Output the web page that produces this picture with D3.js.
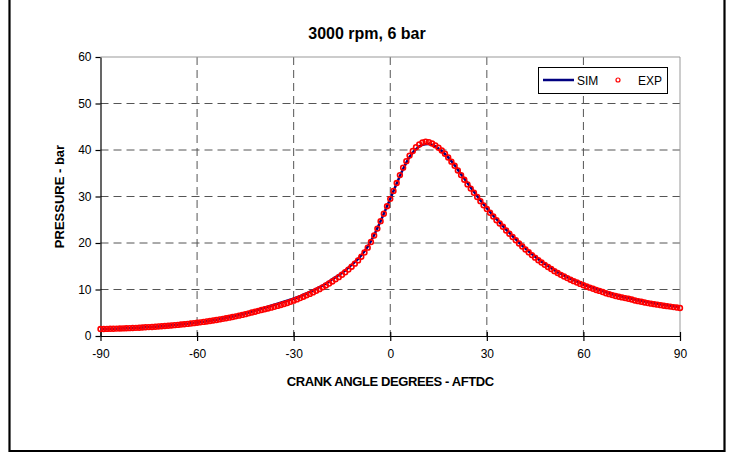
<!DOCTYPE html>
<html><head><meta charset="utf-8">
<script src="https://cdn.jsdelivr.net/npm/d3@7"></script>
<style>
html,body{margin:0;padding:0;background:#fff;}
svg{display:block;font-family:"Liberation Sans",Arial,sans-serif;}
</style></head>
<body><svg id="c" width="731" height="455"></svg>
<script>
const title = "3000 rpm, 6 bar";
const xTitle = "CRANK ANGLE DEGREES - AFTDC";
const yTitle = "PRESSURE - bar";
const xTicks = [-90,-60,-30,0,30,60,90];
const yTicks = [0,10,20,30,40,50,60];
const seriesNames = ["SIM","EXP"];

// EXP: crank angle -90..90 step 1
const expAngle = d3.range(-90, 91, 1);
const expPressure = [
1.50,1.51,1.53,1.55,1.57,1.59,1.61,1.63,1.66,1.69,
1.72,1.75,1.79,1.83,1.87,1.91,1.95,2.00,2.05,2.10,
2.15,2.21,2.27,2.33,2.39,2.46,2.53,2.60,2.68,2.76,
2.85,2.94,3.03,3.13,3.23,3.34,3.45,3.57,3.69,3.82,
3.95,4.09,4.23,4.38,4.54,4.70,4.87,5.04,5.22,5.41,
5.60,5.76,5.93,6.10,6.28,6.47,6.67,6.88,7.10,7.34,
7.60,7.87,8.15,8.44,8.74,9.05,9.38,9.72,10.08,10.46,
10.86,11.28,11.72,12.18,12.66,13.16,13.70,14.28,14.90,15.56,
16.26,17.05,17.95,19.0,20.2,21.6,23.1,24.7,26.3,27.9,
29.5,
31.2,32.9,34.6,36.2,37.6,38.8,39.8,40.6,41.2,41.6,
41.8,41.7,41.4,41.0,40.5,39.9,39.2,38.4,37.5,36.6,
35.6,34.6,33.6,32.6,31.7,30.8,29.9,29.0,28.1,27.3,
26.5,25.7,24.9,24.2,23.5,22.7,22.0,21.3,20.6,19.9,
19.25,18.6,18.0,17.4,16.85,16.3,15.8,15.3,14.85,14.4,
13.95,13.55,13.15,12.8,12.45,12.1,11.8,11.5,11.2,10.9,
10.65,10.4,10.15,9.9,9.7,9.45,9.2,9.0,8.8,8.6,
8.45,8.3,8.15,8.0,7.85,7.65,7.5,7.35,7.2,7.08,
6.96,6.85,6.74,6.63,6.52,6.42,6.32,6.22,6.12,6.03
];

// SIM: crank angle -90..90 step 2
const simAngle = d3.range(-90, 91, 2);
const simPressure = [
1.50,1.53,1.57,1.61,1.66,1.72,1.79,1.87,1.95,2.05,
2.17,2.29,2.42,2.56,2.72,2.89,3.08,3.29,3.51,3.76,
4.05,4.35,4.68,5.05,5.45,5.88,6.30,6.72,7.15,7.60,
8.05,8.55,9.15,9.8,10.5,11.3,12.2,13.1,14.1,15.3,
16.6,18.2,20.4,23.2,26.3,29.5,32.8,35.9,38.5,40.2,
41.1,41.3,40.8,39.8,38.4,36.7,34.8,32.9,31.0,29.2,
27.5,25.9,24.4,22.9,21.5,20.1,18.8,17.6,16.5,15.5,
14.6,13.7,13.0,12.3,11.7,11.1,10.6,10.1,9.65,9.2,
8.8,8.45,8.15,7.85,7.55,7.3,7.05,6.8,6.6,6.4,6.2
];

const svg = d3.select("#c");
const L = 100.5, R = 680, T = 57, B = 336;
const x = d3.scaleLinear().domain([-90,90]).range([L,R]);
const y = d3.scaleLinear().domain([0,60]).range([B,T]);

// outer frame
svg.append("path").attr("d","M9.5,-5 V451 H724.5 V-5").attr("fill","none").attr("stroke","#000").attr("stroke-width",2.2);

// grid
const g = svg.append("g");
g.selectAll(".hg").data(yTicks.filter(v=>v>0 && v<60)).join("line")
  .attr("x1",L).attr("x2",R).attr("y1",d=>y(d)).attr("y2",d=>y(d))
  .attr("stroke","#555").attr("stroke-dasharray","8,5").attr("stroke-width",1);
g.selectAll(".vg").data(xTicks.filter(v=>v>-90 && v<90)).join("line")
  .attr("y1",T).attr("y2",B).attr("x1",d=>x(d)).attr("x2",d=>x(d))
  .attr("stroke","#555").attr("stroke-dasharray","8,5").attr("stroke-width",1);
// plot border top/right
svg.append("path").attr("d",`M${L},${y(60)} H${R} V${B}`).attr("fill","none").attr("stroke","#999").attr("stroke-width",1);

// axes
const fmt = d => String(d);
const xAxis = d3.axisBottom(x).tickValues(xTicks).tickFormat(fmt).tickSize(5).tickSizeOuter(0).tickPadding(8);
const gx = svg.append("g").attr("transform",`translate(0,${B})`).call(xAxis);
gx.selectAll(".tick line").attr("y1",-4).attr("y2",5);
const yAxis = d3.axisLeft(y).tickValues(yTicks).tickFormat(fmt).tickSize(5).tickSizeOuter(0).tickPadding(4);
const gy = svg.append("g").attr("transform",`translate(${L},0)`).call(yAxis);
[gx,gy].forEach(a=>{
  a.selectAll("text").attr("font-size",12).attr("fill","#000").attr("font-family","Liberation Sans, Arial, sans-serif");
  a.selectAll("line,path").attr("stroke","#000").attr("stroke-width",1.2);
});

// SIM line
svg.append("path")
  .datum(simAngle.map((a,i)=>[a,simPressure[i]]))
  .attr("fill","none").attr("stroke","#000080").attr("stroke-width",2.5)
  .attr("d", d3.line().x(d=>x(d[0])).y(d=>y(d[1])).curve(d3.curveCatmullRom));

// EXP markers
svg.append("g").selectAll("circle")
  .data(expAngle.map((a,i)=>[a,expPressure[i]]))
  .join("circle")
  .attr("cx",d=>x(d[0])).attr("cy",d=>y(d[1])).attr("r",2.4)
  .attr("fill","none").attr("stroke","#ff0000").attr("stroke-width",1.6);

// titles
svg.append("text").attr("x",367).attr("y",39).attr("text-anchor","middle")
  .attr("font-size",16).attr("font-weight","bold").text(title);
svg.append("text").attr("x",(L+R)/2).attr("y",386).attr("text-anchor","middle")
  .attr("font-size",13).attr("font-weight","bold").attr("letter-spacing",-0.4).text(xTitle);
svg.append("text").attr("transform",`translate(64,${(T+B)/2}) rotate(-90)`).attr("text-anchor","middle")
  .attr("font-size",13).attr("font-weight","bold").text(yTitle);

// legend
const lg = svg.append("g");
lg.append("rect").attr("x",538.5).attr("y",67.5).attr("width",129).attr("height",26)
  .attr("fill","#fff").attr("stroke","#000").attr("stroke-width",1);
lg.append("line").attr("x1",543).attr("x2",574).attr("y1",80).attr("y2",80)
  .attr("stroke","#000080").attr("stroke-width",2.5);
lg.append("text").attr("x",577).attr("y",85).attr("font-size",12).text(seriesNames[0]);
lg.append("circle").attr("cx",618).attr("cy",80).attr("r",2).attr("fill","#fff")
  .attr("stroke","#ff0000").attr("stroke-width",1.2);
lg.append("text").attr("x",638).attr("y",85).attr("font-size",12).text(seriesNames[1]);
</script></body></html>
